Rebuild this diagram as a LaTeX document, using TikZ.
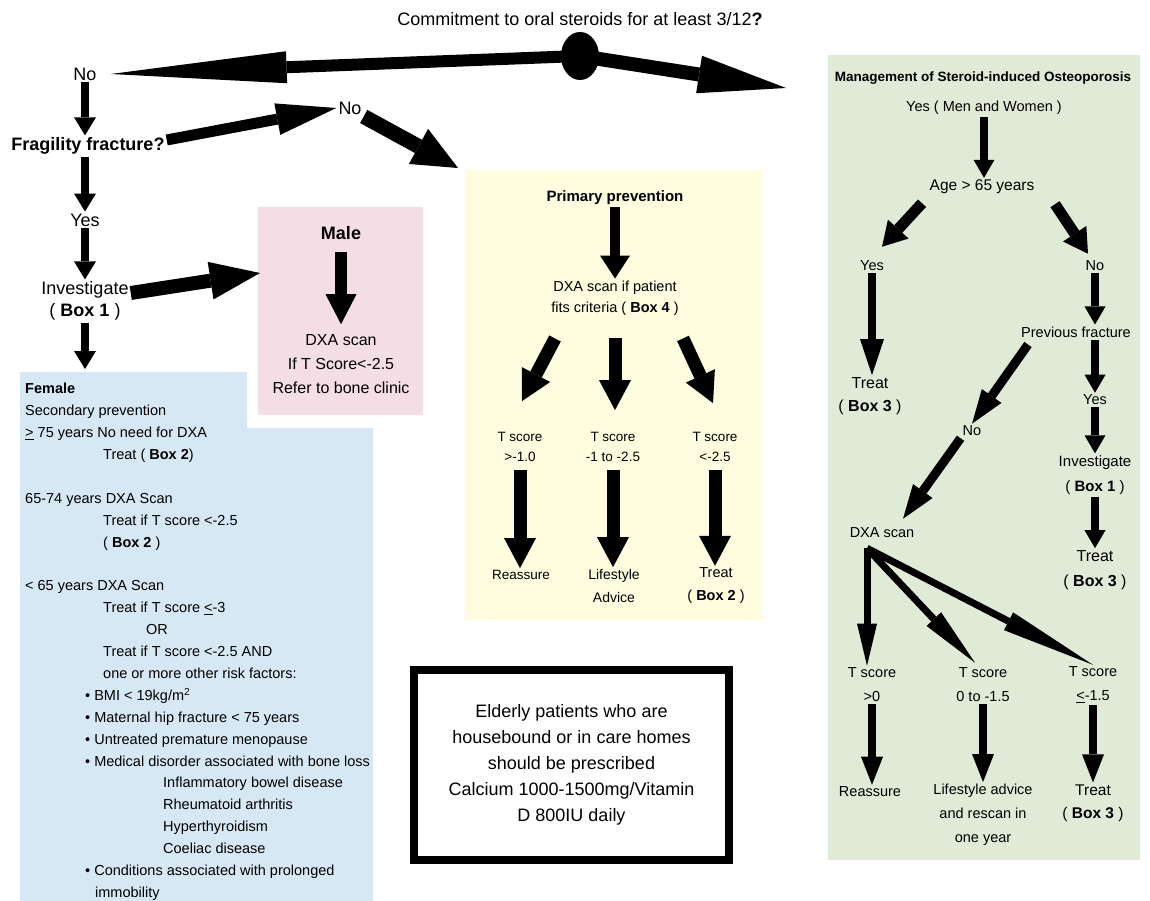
\documentclass[tikz,border=0pt]{standalone}
\usepackage{fontspec}
\setmainfont{Liberation Sans}
\usetikzlibrary{arrows.meta,shapes.geometric,positioning}

\definecolor{malepink}{HTML}{F4DEE6}
\definecolor{femblue}{HTML}{D7E8F5}
\definecolor{primyellow}{HTML}{FEFDE0}
\definecolor{sterigreen}{HTML}{DFEAD7}

\newcommand{\fsz}[2]{\fontsize{#1}{#2}\selectfont}
\newcommand{\boxref}[1]{( \textbf{Box #1} )}

\tikzset{
  blkarr/.style n args={3}{line width=#1pt,
    -{Triangle[width=#2pt,length=#3pt,line width=0pt]}},
  varr/.style={blkarr={8}{22}{18}},
  longarr/.style={blkarr={12}{32}{176}},
  rarr/.style={blkarr={14}{38}{88}},
  harr/.style={blkarr={11}{32}{60}},
  narr/.style={blkarr={15}{40}{45}},
  iarr/.style={blkarr={14}{38}{50}},
  marr/.style={blkarr={12}{31}{30}},
  yarr/.style={blkarr={13}{32}{30}},
  yarrtop/.style={blkarr={10}{30}{23}},
  garr/.style={blkarr={8}{21}{18}},
  gdown/.style={blkarr={8}{22}{28}},
  gdiag/.style={blkarr={11}{28}{24}},
  gslant/.style={blkarr={9}{24}{34}},
  gtall/.style={blkarr={8}{24}{36}},
  fanarr/.style={blkarr={7}{20}{#1}},
  txt/.style={inner sep=2pt, align=center},
  gtxt/.style={txt, font=\fsz{14.5}{24}},
  ytxt/.style={txt, font=\fsz{13.5}{20}},
  panel/.style={anchor=north west, inner sep=0, minimum width=#1},
}

\begin{document}
\begin{tikzpicture}[x=1pt,y=-1pt,font=\fsz{18}{22}]
\useasboundingbox (0,0) rectangle (1150,901);

% coloured panels
\node[panel=165, fill=malepink, minimum height=208] (mbox) at (258,207) {};
\fill[femblue] (20,372) -| (247,428) -| (373,901) -| cycle;
\node[panel=298, fill=primyellow, minimum height=450] (ybox) at (465,170) {};
\node[panel=312, fill=sterigreen, minimum height=805] (gbox) at (828,55) {};

% top question and left column
\node[txt] (commit) at (580,19) {Commitment to oral steroids for at least 3/12\textbf{?}};
\node[ellipse, fill=black, minimum width=38, minimum height=48, inner sep=0] (dot) at (580,56) {};
\node[txt] (no1) at (85,74) {No};
\node[txt, font=\bfseries\fsz{18}{22}] (frag) at (88,146) {Fragility fracture?};
\node[txt] (no2) at (350,108) {No};
\node[txt] (yes1) at (85,220) {Yes};
\node[txt] (inv) at (85,301) {Investigate\\\boxref{1}};
\coordinate (femtop) at (85,369);

\draw[longarr] (dot.center) -- ([xshift=12pt]no1.east);
\draw[rarr] (dot.center) -- ([shift={(-42,33)}]gbox.north west);
\draw[varr] (no1) -- (no1 |- frag.north);
\draw[varr] (no1 |- frag.south) -- (yes1);
\draw[varr] (yes1) -- (yes1 |- inv.north);
\draw[varr] (inv) -- (femtop);
\draw[harr] ([yshift=6pt]frag.east) -- (no2.west);
\draw[narr] (no2.south east) -- ([shift={(-7,-2)}]ybox.north west);
\draw[iarr] ([yshift=8pt]inv.east) -- ([shift={(2,66)}]mbox.north west);

% male
\node[txt, font=\bfseries\fsz{18}{22}] (male) at (341,233) {Male};
\node[txt, font=\fsz{16}{24}] (mdxa) at (341,364) {DXA scan\\If T Score<-2.5\\Refer to bone clinic};
\draw[marr, shorten <=10pt, shorten >=8pt] (male) -- (mdxa);

% female
\node[anchor=north west, align=left, inner sep=0, font=\fsz{14.5}{21.9}] (fem) at (25,383) {%
  \textbf{Female}\\
  Secondary prevention\\
  \underline{>} 75 years No need for DXA\\
  \hspace*{78pt}Treat ( \textbf{Box 2})\\[21.9pt]
  65-74 years DXA Scan\\
  \hspace*{78pt}Treat if T score <-2.5\\
  \hspace*{78pt}\boxref{2}\\[21.9pt]
  < 65 years DXA Scan\\
  \hspace*{78pt}Treat if T score \underline{<}-3\\
  \hspace*{121pt}OR\\
  \hspace*{78pt}Treat if T score <-2.5 AND\\
  \hspace*{78pt}one or more other risk factors:\\
  \hspace*{60pt}\textbullet\ BMI < 19kg/m\textsuperscript{2}\\
  \hspace*{60pt}\textbullet\ Maternal hip fracture < 75 years\\
  \hspace*{60pt}\textbullet\ Untreated premature menopause\\
  \hspace*{60pt}\textbullet\ Medical disorder associated with bone loss\\
  \hspace*{138pt}Inflammatory bowel disease\\
  \hspace*{138pt}Rheumatoid arthritis\\
  \hspace*{138pt}Hyperthyroidism\\
  \hspace*{138pt}Coeliac disease\\
  \hspace*{60pt}\textbullet\ Conditions associated with prolonged\\
  \hspace*{70pt}immobility};

% primary prevention
\node[txt, font=\bfseries\fsz{15}{18}] (prim) at (615,198) {Primary prevention};
\node[txt, font=\fsz{14.5}{21}] (ydxa) at (615,298) {DXA scan if patient\\fits criteria \boxref{4}};
\node[ytxt] (tsa) at (520,447) {T score\\>-1.0};
\node[ytxt] (tsb) at (613,447) {T score\\-1 to -2.5};
\node[ytxt] (tsc) at (715,447) {T score\\<-2.5};
\node[ytxt] (yreas) at (521,575) {Reassure};
\node[ytxt, font=\fsz{14}{23}] (ylife) at (614,586) {Lifestyle\\Advice};
\node[ytxt, font=\fsz{14.5}{23}] (ytreat) at (716,586) {Treat\\\boxref{2}};

\draw[yarrtop] (prim) -- (prim |- ydxa.north);
\draw[yarr] ([shift={(-60,21)}]ydxa.south) -- ([shift={(2,-29)}]tsa.north);
\draw[yarr] ([yshift=-21pt]ydxa.south) -- ([yshift=20pt]ydxa.south |- tsb.north);
\draw[yarr] ([shift={(68,21)}]ydxa.south) -- ([shift={(-2,-27)}]tsc.north);
\draw[yarr, shorten <=6pt] (tsa) -- (tsa |- yreas.north);
\draw[yarr, shorten <=6pt] (tsb) -- (tsb |- ylife.north);
\draw[yarr, shorten <=6pt] (tsc) -- (tsc |- ytreat.north);

% elderly note
\node[draw, line width=8pt, minimum width=315, minimum height=190, align=center,
  font=\fsz{18}{26}] (eld) at (571.5,765) {Elderly patients who are\\housebound or in care homes\\should be prescribed\\Calcium 1000-1500mg/Vitamin\\D 800IU daily};

% steroid-induced osteoporosis
\node[txt, font=\bfseries\fsz{13.5}{16}] (mgmt) at (983,78) {Management of Steroid-induced Osteoporosis};
\node[gtxt] (yesmw) at (984,108) {Yes ( Men and Women )};
\node[gtxt, font=\fsz{15.5}{24}] (age) at (982,187) {Age > 65 years};
\node[gtxt] (gyes) at (872,266) {Yes};
\node[gtxt] (gno) at (1095,266) {No};
\node[gtxt] (prev) at (1076,332) {Previous fracture};
\node[gtxt, font=\fsz{16}{23}] (gtreat1) at (870,396) {Treat\\\boxref{3}};
\node[gtxt] (gyes2) at (1095,400) {Yes};
\node[gtxt, font=\fsz{15}{25}] (ginv) at (1095,475) {Investigate\\\boxref{1}};
\node[gtxt, font=\fsz{16}{25}] (gtreat2) at (1095,570) {Treat\\\boxref{3}};
\node[gtxt] (gno2) at (972,431) {No};
\node[gtxt] (gdxa) at (882,533) {DXA scan};
\coordinate (fan) at ([shift={(-15,8)}]gdxa.south);
\node[gtxt] (ts1) at (872,685) {T score\\>0};
\node[gtxt] (ts2) at (983,685) {T score\\0 to -1.5};
\node[gtxt] (ts3) at (1093,685) {T score\\\underline{<}-1.5};
\node[gtxt] (reas) at (870,792) {Reassure};
\node[gtxt] (life) at (983,815) {Lifestyle advice\\and rescan in\\one year};
\node[gtxt, font=\fsz{15.5}{23}] (gtreat3) at (1093,803) {Treat\\\boxref{3}};

\draw[garr] (yesmw) -- (yesmw |- age.north);
\draw[gdiag] ([shift={(-60,7)}]age.south) -- ([shift={(10,-12)}]gyes.north);
\draw[gdiag] ([shift={(73,8)}]age.south) -- ([shift={(-7,-5)}]gno.north);
\draw[garr] (gno) -- (gno |- prev.north);
\draw[gtall] (gyes) -- (gyes |- gtreat1.north);
\draw[garr] (gyes2 |- prev.south) -- (gyes2);
\draw[garr] (gyes2) -- (ginv);
\draw[garr] (ginv) -- (gtreat2);
\draw[gslant] ([shift={(-48,5)}]prev.south) -- (gno2.north);
\draw[gslant] (gno2.south west) -- ([shift={(21,-7)}]gdxa.north);
\draw[fanarr=42] (fan) -- (fan |- ts1.north);
\draw[fanarr=60] (fan) -- ([shift={(-8,-3)}]ts2.north);
\draw[fanarr=95] (fan) -- (ts3.north);
\draw[gdown] (ts1) -- (ts1 |- reas.north);
\draw[gdown] (ts2) -- (ts2 |- life.north);
\draw[gdown] (ts3) -- (ts3 |- gtreat3.north);
\end{tikzpicture}
\end{document}
